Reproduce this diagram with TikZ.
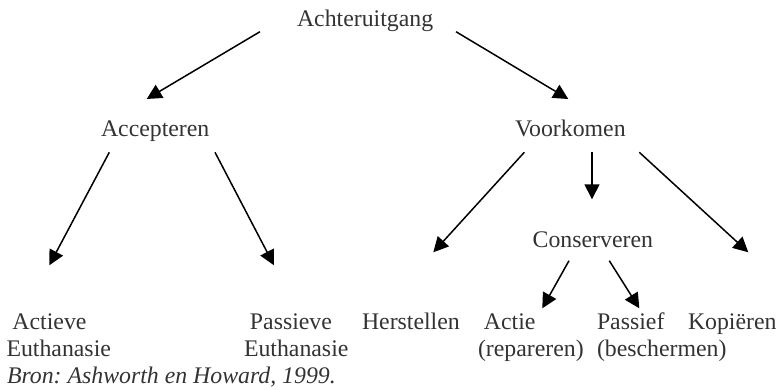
\documentclass[tikz,border=0pt]{standalone}
\usepackage{fontspec}
\setmainfont{Liberation Serif}
\usetikzlibrary{arrows.meta,calc}
\definecolor{txt}{gray}{0.2}
\frenchspacing
\begin{document}
\begin{tikzpicture}[x=1pt,y=-1pt,
  lbl/.style={inner sep=0pt, outer sep=0pt, anchor=base west, text=txt, align=left,
    font=\fontsize{23.8pt}{27.4pt}\selectfont},
  arr/.style={line width=1.5pt, -{Triangle[length=15pt,width=15pt]}}]
\useasboundingbox (0,0) rectangle (781,390);
\node[lbl] (root) at (297,26.7) {Achteruitgang};
\node[lbl] (acc) at (101,136.7) {Accepteren};
\node[lbl] (voo) at (515,136.7) {Voorkomen};
\node[lbl] (con) at (532.7,247.3) {Conserveren};
\node[lbl] (act) at (6.5,356.7) {\ Actieve\\Euthanasie};
\node[lbl] (pas) at (244,356.7) {\ Passieve\\Euthanasie};
\node[lbl] (her) at (362,329.3) {Herstellen};
\node[lbl] (actie) at (478,356.7) {\ Actie\\(repareren)};
\node[lbl] (passief) at (597,356.7) {Passief\\(beschermen)};
\node[lbl] (kop) at (688,329.3) {Kopiëren};
\node[lbl, font=\fontsize{23.8pt}{27.4pt}\selectfont\itshape] (bron) at (7,383.3) {Bron: Ashworth en Howard, 1999.};
\draw[arr] ($(root.base west)+(-37,5)$) -- ($(acc.base west)+(45.7,-37.7)$);
\draw[arr] ($(root.base west)+(159,5)$) -- ($(voo.base west)+(53.3,-37.7)$);
\draw[arr] ($(acc.base west)+(8.3,15.6)$) -- ($(act.base west)+(42.8,-91.4)$);
\draw[arr] ($(acc.base west)+(114,15.6)$) -- ($(pas.base west)+(30,-91.4)$);
\draw[arr] ($(voo.base west)+(9.3,15.6)$) -- ($(her.base west)+(71.3,-77)$);
\draw[arr] ($(voo.base west)+(77,15.6)$) -- ($(con.base west)+(59.3,-48)$);
\draw[arr] ($(voo.base west)+(124.3,15.6)$) -- ($(kop.base west)+(60.3,-77)$);
\draw[arr] ($(con.base west)+(36.3,13.4)$) -- ($(actie.base west)+(64.3,-48.4)$);
\draw[arr] ($(con.base west)+(76.6,13.4)$) -- ($(passief.base west)+(42.3,-48.4)$);
\end{tikzpicture}
\end{document}
